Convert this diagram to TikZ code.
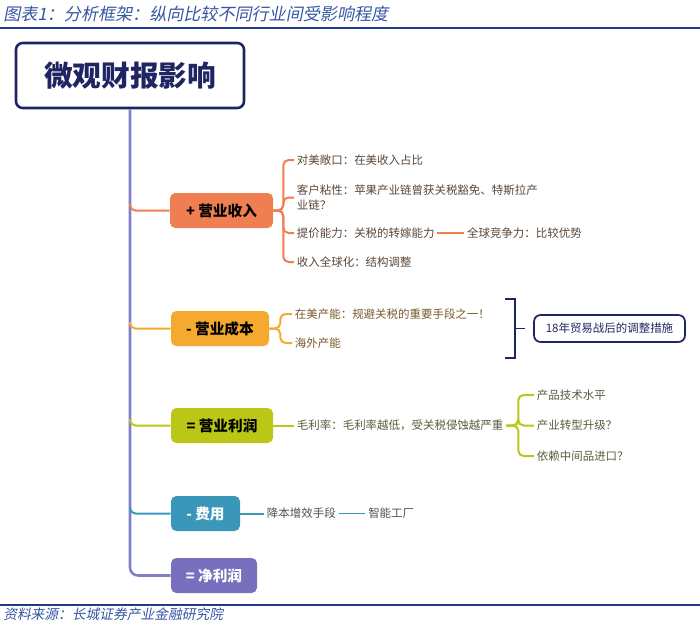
\documentclass[tikz,border=0pt]{standalone}
\usepackage{fontspec}
\setmainfont{Noto Sans CJK SC}
\newfontfamily\slantfont[FakeSlant=0.2]{Noto Sans CJK SC}
\usepackage{tikz}
\usetikzlibrary{positioning}
\definecolor{navy1}{RGB}{31, 37, 99}
\definecolor{titleblue}{RGB}{53, 86, 163}
\definecolor{rulecol}{RGB}{31, 59, 140}
\definecolor{trunkcol}{RGB}{127, 128, 200}
\definecolor{revcol}{RGB}{239, 127, 81}
\definecolor{costcol}{RGB}{245, 169, 47}
\definecolor{profcol}{RGB}{186, 199, 22}
\definecolor{expcol}{RGB}{58, 151, 186}
\definecolor{netcol}{RGB}{120, 112, 190}
\definecolor{revtext}{RGB}{90, 70, 55}
\definecolor{costtext}{RGB}{120, 90, 40}
\definecolor{proftext}{RGB}{90, 90, 60}
\definecolor{exptext}{RGB}{80, 80, 80}

\begin{document}
\begin{tikzpicture}[x=0.75pt, y=-0.75pt,
  mainbox/.style={draw=navy1, line width=1.9pt, rounded corners=5pt, fill=white, minimum width=171pt, minimum height=48.75pt, font=\fontsize{21.5}{24}\selectfont\bfseries, text=navy1},
  catbox/.style={rounded corners=4pt, minimum height=26.25pt, inner sep=0pt, font=\fontsize{11}{13}\selectfont\bfseries},
  adjbox/.style={draw=navy1, line width=1.3pt, rounded corners=5pt, fill=white, minimum width=113.25pt, minimum height=20.25pt, text=navy1, font=\fontsize{8.6}{11}\selectfont},
  leaf/.style={anchor=west, inner sep=2pt, align=left, font=\fontsize{8.6}{11.2}\selectfont},
  link/.style={line width=1.5pt, rounded corners=4pt}
]
  \useasboundingbox (0,0) rectangle (700,621);

  % header and footer
  \node[anchor=west, inner sep=0pt, text=titleblue, font=\slantfont\fontsize{12.8}{14}\selectfont] (title) at (3,14) {图表1：分析框架：纵向比较不同行业间受影响程度};
  \draw[rulecol, line width=1.2pt] (0,28) -- (700,28);
  \draw[rulecol, line width=1.2pt] (0,605) -- (700,605);
  \node[anchor=west, inner sep=0pt, text=titleblue, font=\slantfont\fontsize{10.3}{12}\selectfont] (src) at (3,614) {资料来源：长城证券产业金融研究院};

  % root and categories
  \node[mainbox] (root) at (130,75.5) {微观财报影响};
  \node[catbox, fill=revcol, minimum width=77.25pt] (rev) at (221.5,210.5) {+ 营业收入};
  \node[catbox, fill=costcol, minimum width=73.5pt] (cost) at (220,328.5) {- 营业成本};
  \node[catbox, fill=profcol, minimum width=76.5pt] (prof) at (222,425.5) {= 营业利润};
  \node[catbox, fill=expcol, text=white, minimum width=51.75pt] (exp) at (205.5,513.5) {- 费用};
  \node[catbox, fill=netcol, text=white, minimum width=64.5pt] (net) at (214,575.5) {= 净利润};

  % trunk
  \draw[trunkcol, line width=1.9pt, rounded corners=6pt] (root.south) |- (net.west);
  \foreach \n/\c/\y in {rev/revcol/204, cost/costcol/322, prof/profcol/419, exp/expcol/507}
    \draw[link, \c] (130,\y) |- (\n.west);

  % revenue
  \node[leaf, text=revtext] (r1) at (294,160) {对美敞口：在美收入占比};
  \node[leaf, text=revtext] (r2) at (294,197.5) {客户粘性：苹果产业链曾获关税豁免、特斯拉产\\业链？};
  \node[leaf, text=revtext] (r3) at (294,233) {提价能力：关税的转嫁能力};
  \node[leaf, text=revtext, right=20pt of r3] (r3b) {全球竞争力：比较优势};
  \node[leaf, text=revtext] (r4) at (294,262) {收入全球化：结构调整};
  \foreach \k in {r1,r2,r3,r4}
    \draw[link, revcol] (rev.east) -- ++(10,0) |- (\k.west);
  \draw[revcol, line width=1.2pt] (r3.east) -- (r3b.west);

  % cost
  \node[leaf, text=costtext] (c1) at (292,314) {在美产能：规避关税的重要手段之一！};
  \node[leaf, text=costtext] (c2) at (292,343) {海外产能};
  \foreach \k in {c1,c2}
    \draw[link, costcol] (cost.east) -- ++(11,0) |- (\k.west);
  \draw[navy1, line width=1.3pt] (505,299) -| (515,358) -- (505,358);
  \node[adjbox] (adj) at (609.5,328.5) {18年贸易战后的调整措施};
  \draw[navy1, line width=1.3pt, shorten >=6pt] (515,328.5) -- (adj.west);

  % profit
  \node[leaf, text=proftext] (gm) at (294,425.5) {毛利率：毛利率越低，受关税侵蚀越严重};
  \draw[link, profcol] (prof.east) -- (gm.west);
  \node[leaf, text=proftext] (p1) at (534,395) {产品技术水平};
  \node[leaf, text=proftext] (p2) at (534,425.5) {产业转型升级？};
  \node[leaf, text=proftext] (p3) at (534,456) {依赖中间品进口？};
  \foreach \k in {p1,p2,p3}
    \draw[link, profcol] (gm.east) -- ++(12,0) |- (\k.west);

  % expense
  \node[leaf, text=exptext] (e1) at (264,513.5) {降本增效手段};
  \node[leaf, text=exptext, right=20pt of e1] (e2) {智能工厂};
  \draw[link, expcol] (exp.east) -- (e1.west);
  \draw[expcol, line width=1.2pt] (e1.east) -- (e2.west);
\end{tikzpicture}
\end{document}
